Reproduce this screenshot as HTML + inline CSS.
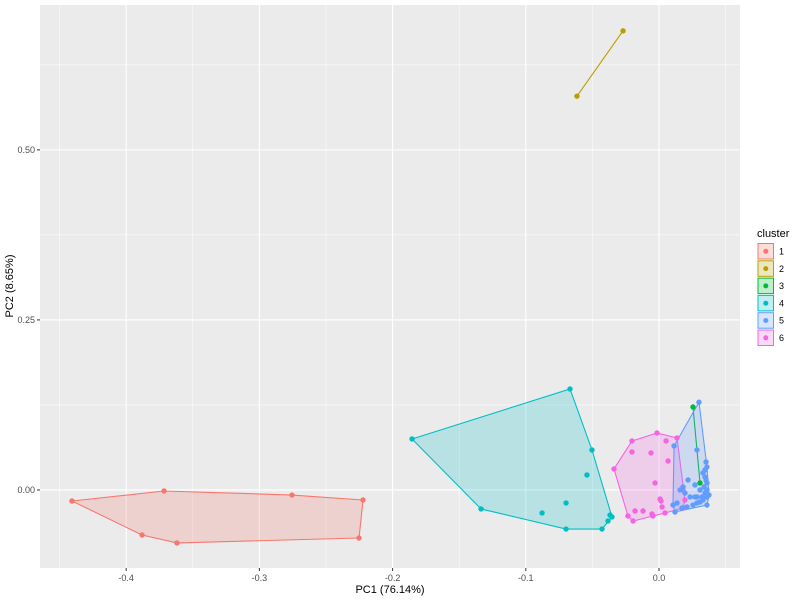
<!DOCTYPE html>
<html><head><meta charset="utf-8"><style>
body{margin:0;background:#fff;font-family:"Liberation Sans",sans-serif}
</style></head><body>
<svg id="chart" width="800" height="600" xmlns="http://www.w3.org/2000/svg">
<rect width="800" height="600" fill="#fff"/>
<g id="panel"></g>
<text x="390" y="593" font-size="11" text-anchor="middle" fill="#000">PC1 (76.14%)</text>
<text transform="translate(13,286) rotate(-90)" font-size="11" text-anchor="middle" fill="#000">PC2 (8.65%)</text>
<g id="legend"></g>
</svg>
<script>
const clusterIds = ["1","2","3","4","5","6"];
const clusterColors = ["#F8766D","#B79F00","#00BA38","#00BFC4","#619CFF","#F564E3"];
const xTicks = [-0.4,-0.3,-0.2,-0.1,0.0];
const xTickLabels = ["-0.4","-0.3","-0.2","-0.1","0.0"];
const yTicks = [0,0.25,0.5];
const yTickLabels = ["0.00","0.25","0.50"];
const c1x = [-0.4407,-0.3716,-0.2755,-0.2222,-0.2252,-0.3619,-0.3881];
const c1y = [-0.0162,-0.0015,-0.0074,-0.0147,-0.0706,-0.0779,-0.0662];
const c2x = [-0.0616,-0.027];
const c2y = [0.579,0.675];
const c3x = [0.0255,0.0308];
const c3y = [0.122,0.0103];
const c4x = [-0.1854,-0.0668,-0.0503,-0.0541,-0.0698,-0.0878,-0.1336,-0.0698,-0.0428,-0.0368,-0.0353,-0.0383];
const c4y = [0.075,0.1485,0.0588,0.0221,-0.0191,-0.0338,-0.0279,-0.0574,-0.0574,-0.0368,-0.0397,-0.0456];
const c5x = [0.03,0.0113,0.0105,0.012,0.036,0.0375,0.0353,0.0285,0.0218,0.027,0.0308,0.033,0.0345,0.0353,0.036,0.0338,0.036,0.0345,0.036,0.033,0.0308,0.0285,0.0255,0.021,0.0173,0.018,0.0195,0.0233,0.027,0.0135,0.0158,0.0285,0.0323,0.0345,0.036];
const c5y = [0.129,0.0647,-0.0221,-0.0324,-0.0221,-0.0074,0.0412,0.0588,0.0147,0.0074,0,0.025,0.0191,0.0147,0.0103,0.0044,0,-0.0044,-0.0103,-0.0147,-0.0176,-0.0191,-0.0221,-0.025,-0.0265,0.0044,-0.0044,-0.0103,-0.0103,-0.0191,0,-0.0103,-0.0103,0.0294,0.0338];
const c6x = [-0.0338,-0.0203,-0.0015,0.0135,0.018,0.0195,0.018,0.0045,-0.0045,-0.0195,-0.0233,-0.0203,-0.006,0.0053,0.0068,-0.003,0.0008,0.0015,0.0023,-0.018,-0.012,-0.0053];
const c6y = [0.0309,0.072,0.0838,0.0765,0,-0.0147,-0.0265,-0.0338,-0.0382,-0.0456,-0.0382,0.0559,0.0544,0.072,0.0426,0.0103,-0.0132,-0.0162,-0.025,-0.0309,-0.0309,-0.0353];
const allX=[c1x,c2x,c3x,c4x,c5x,c6x], allY=[c1y,c2y,c3y,c4y,c5y,c6y];

const L=40,R=740,T=5,B=568;
const xMin=-0.4647,xMax=0.0608,yMin=-0.1147,yMax=0.713;
const sx=v=>L+(v-xMin)/(xMax-xMin)*(R-L);
const sy=v=>B-(v-yMin)/(yMax-yMin)*(B-T);
const NS="http://www.w3.org/2000/svg";
function mk(tag,attrs,parent){const e=document.createElementNS(NS,tag);for(const k in attrs)e.setAttribute(k,attrs[k]);parent.appendChild(e);return e;}
const panel=document.getElementById('panel');
const bg=mk('rect',{x:L,y:T,width:R-L,height:B-T,fill:'#EBEBEB'},panel);


for(let i=0;i<xTicks.length;i++){const v=xTicks[i]-0.05;mk('line',{x1:sx(v),x2:sx(v),y1:T,y2:B,stroke:'#fff','stroke-width':0.5},panel);}
mk('line',{x1:sx(0.05),x2:sx(0.05),y1:T,y2:B,stroke:'#fff','stroke-width':0.5},panel);
[-0.125,0.125,0.375,0.625].forEach(v=>mk('line',{x1:L,x2:R,y1:sy(v),y2:sy(v),stroke:'#fff','stroke-width':0.5},panel));
xTicks.forEach((v,i)=>{
  const g=mk('line',{x1:sx(v),x2:sx(v),y1:T,y2:B,stroke:'#fff','stroke-width':1.1},panel);
  
  
  mk('line',{x1:sx(v),x2:sx(v),y1:B,y2:B+3,stroke:'#333'},panel);
  const t=mk('text',{x:sx(v),y:B+13,'font-size':9,'text-anchor':'middle',fill:'#4D4D4D'},panel);
  t.textContent=xTickLabels[i];
  
  
});
yTicks.forEach((v,i)=>{
  const g=mk('line',{x1:L,x2:R,y1:sy(v),y2:sy(v),stroke:'#fff','stroke-width':1.1},panel);
  
  
  mk('line',{x1:L-3,x2:L,y1:sy(v),y2:sy(v),stroke:'#333'},panel);
  const t=mk('text',{x:L-5,y:sy(v)+3,'font-size':9,'text-anchor':'end',fill:'#4D4D4D'},panel);
  t.textContent=yTickLabels[i];
  
  
});
function hull(pts){
  pts=pts.slice().sort((a,b)=>a[0]-b[0]||a[1]-b[1]);
  if(pts.length<3)return pts;
  const cr=(o,a,b)=>(a[0]-o[0])*(b[1]-o[1])-(a[1]-o[1])*(b[0]-o[0]);
  const lo=[],up=[];
  for(const p of pts){while(lo.length>=2&&cr(lo[lo.length-2],lo[lo.length-1],p)<=0)lo.pop();lo.push(p);}
  for(let i=pts.length-1;i>=0;i--){const p=pts[i];while(up.length>=2&&cr(up[up.length-2],up[up.length-1],p)<=0)up.pop();up.push(p);}
  up.pop();lo.pop();return lo.concat(up);
}
const order=[0,1,2,3,5,4];
order.forEach(c=>{
  const pts=allX[c].map((x,i)=>[sx(x),sy(allY[c][i])]);
  const h=hull(pts);
  const poly=mk('polygon',{points:h.map(p=>p.join(',')).join(' '),fill:clusterColors[c],'fill-opacity':0.22,stroke:clusterColors[c],'stroke-width':1.1},panel);
  
  
});
order.forEach(c=>{
  allX[c].forEach((x,i)=>{
    const p=mk('circle',{cx:sx(x),cy:sy(allY[c][i]),r:2.7,fill:clusterColors[c]},panel);
    
    
  });
});
const lg=document.getElementById('legend');
const lt=mk('text',{x:757,y:237,'font-size':11,fill:'#000'},lg);
lt.textContent='cluster';


clusterIds.forEach((id,i)=>{
  const y=243+i*17.3;
  const k=mk('rect',{x:758,y:y+0.5,width:15.5,height:15.5,fill:clusterColors[i],'fill-opacity':0.25,stroke:clusterColors[i],'stroke-width':1},lg);
  
  
  mk('circle',{cx:765.8,cy:y+8.3,r:2.5,fill:clusterColors[i]},lg);
  const t=mk('text',{x:779,y:y+11.5,'font-size':9,fill:'#000'},lg);
  t.textContent=id;
  
  
});
</script>
</body></html>
